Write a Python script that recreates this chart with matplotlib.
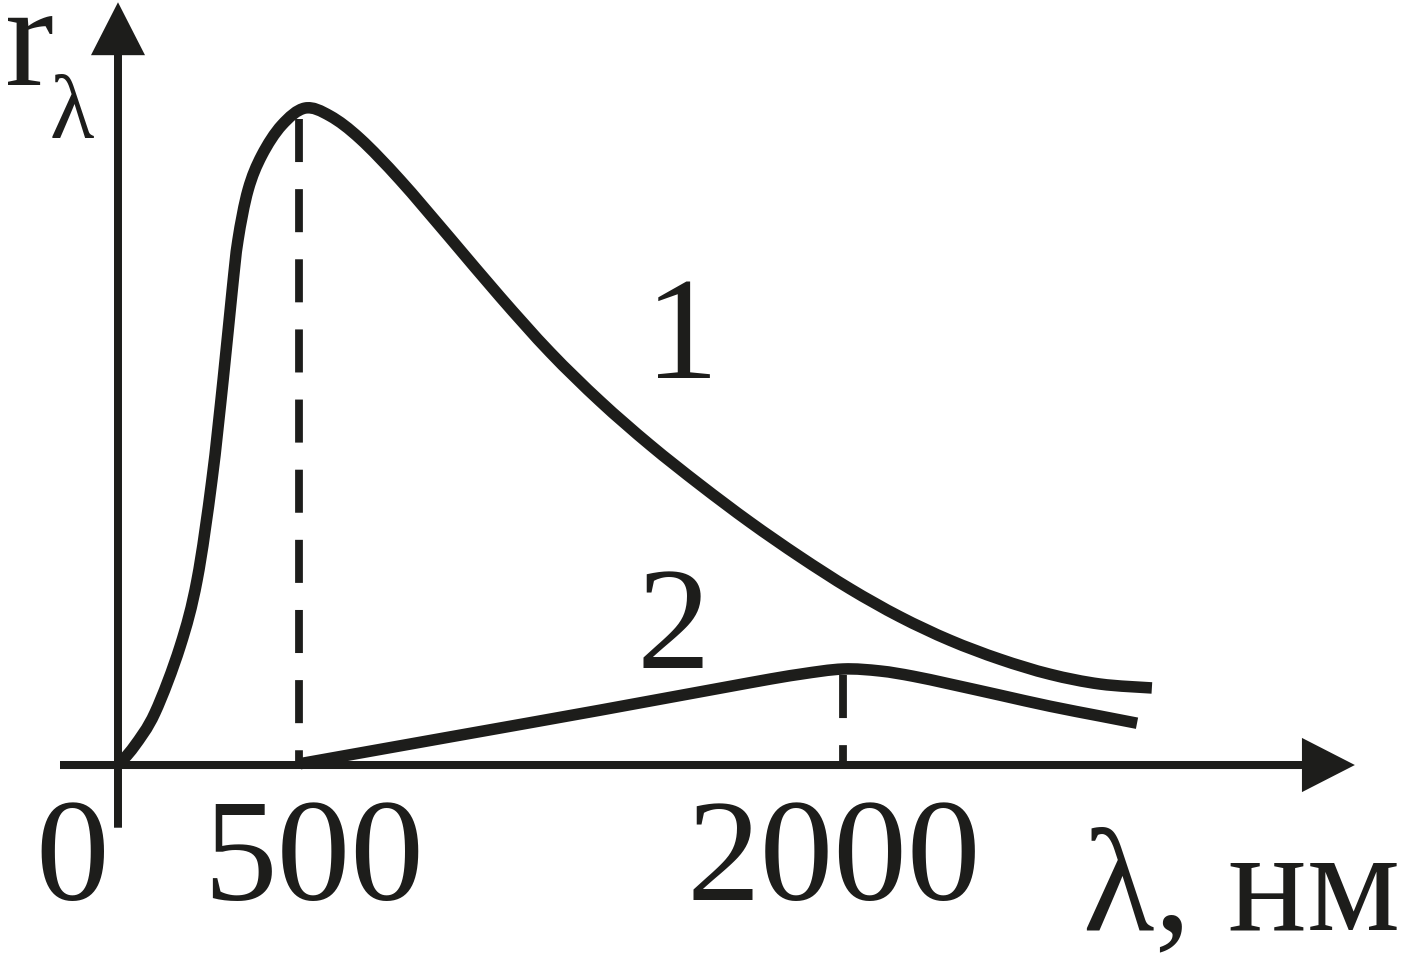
import numpy as np
import matplotlib.pyplot as plt
from matplotlib.path import Path
from matplotlib.patches import PathPatch

plt.rcParams['font.family'] = ['Liberation Serif', 'DejaVu Serif']
plt.rcParams['lines.scale_dashes'] = False

C = '#1d1d1b'

# кривая 1 (высокая температура): длина волны, нм / r_lambda (отн. ед.)
lam1 = [0, 44, 102, 171, 218, 259, 290, 315, 331, 359, 397, 452, 516, 585,
        668, 778, 916, 1054, 1192, 1330, 1468, 1606, 1743, 1881, 2019, 2157, 2295,
        2433, 2571, 2709, 2852]
r1 = [0.0, 0.028, 0.080, 0.181, 0.283, 0.436, 0.590, 0.727, 0.804, 0.881, 0.934,
      0.980, 1.006, 0.994, 0.959, 0.896, 0.807, 0.717, 0.632, 0.557, 0.490, 0.429,
      0.372, 0.319, 0.270, 0.227, 0.191, 0.162, 0.139, 0.124, 0.118]

# кривая 2 (низкая температура)
lam2 = [502, 916, 1330, 1743, 1881, 2000, 2102, 2193, 2295, 2433, 2571, 2709, 2811]
r2 = [0.002, 0.043, 0.084, 0.126, 0.139, 0.147, 0.144, 0.136, 0.124, 0.107, 0.090,
      0.075, 0.064]

lam_max = [500, 2000]
r_max = [0.99, 0.138]


def gladkaya(x, y):
    # кривая Безье через точки (Catmull-Rom)
    p = np.column_stack([x, y]).astype(float)
    verts = [p[0]]
    codes = [Path.MOVETO]
    n = len(p)
    for i in range(n - 1):
        p0 = p[i - 1] if i > 0 else p[i]
        p3 = p[i + 2] if i + 2 < n else p[i + 1]
        verts += [p[i] + (p[i + 1] - p0) / 6, p[i + 1] - (p3 - p[i]) / 6, p[i + 1]]
        codes += [Path.CURVE4] * 3
    return Path(verts, codes)


fig = plt.figure(figsize=(14.02, 9.57), dpi=100)
ax = fig.add_axes([0, 0, 1, 1])
ax.set_xlim(-325.5, 3542)
ax.set_ylim(-0.294, 1.1715)
ax.axis('off')

# оси со стрелками
ax.arrow(-160, 0, 3572, 0, width=0.0123, head_width=0.083, head_length=146,
         length_includes_head=True, color=C, lw=0)
ax.arrow(0, -0.096, 0, 1.264, width=22, head_width=149, head_length=0.081,
         length_includes_head=True, color=C, lw=0)

for lx, ry in [(lam1, r1), (lam2, r2)]:
    ax.add_patch(PathPatch(gladkaya(lx, ry), fill=False, edgecolor=C, lw=8.3,
                           capstyle='butt', joinstyle='round'))

for lm, rm in zip(lam_max, r_max):
    ax.plot([lm, lm], [rm, 0], color=C, lw=5.6, ls=(0, (31, 19.5)), dash_capstyle='butt')

fs = 106
ax.text(-127, -0.207, '0', fontsize=fs, color=C, ha='center', va='baseline')
ax.text(540, -0.207, '500', fontsize=fs, color=C, ha='center', va='baseline')
ax.text(1975, -0.207, '2000', fontsize=fs, color=C, ha='center', va='baseline')
ax.text(2662, -0.252, 'λ, нм', fontsize=fs, color=C, ha='left', va='baseline')
ax.text(1556, 0.593, '1', fontsize=fs, color=C, ha='center', va='baseline')
ax.text(1531, 0.149, '2', fontsize=fs, color=C, ha='center', va='baseline')
ax.text(-312, 1.041, 'r', fontsize=fs, color=C, ha='left', va='baseline')
ax.text(-188, 0.960, 'λ', fontsize=66, color=C, ha='left', va='baseline')

fig.savefig('out.png', dpi=100)
